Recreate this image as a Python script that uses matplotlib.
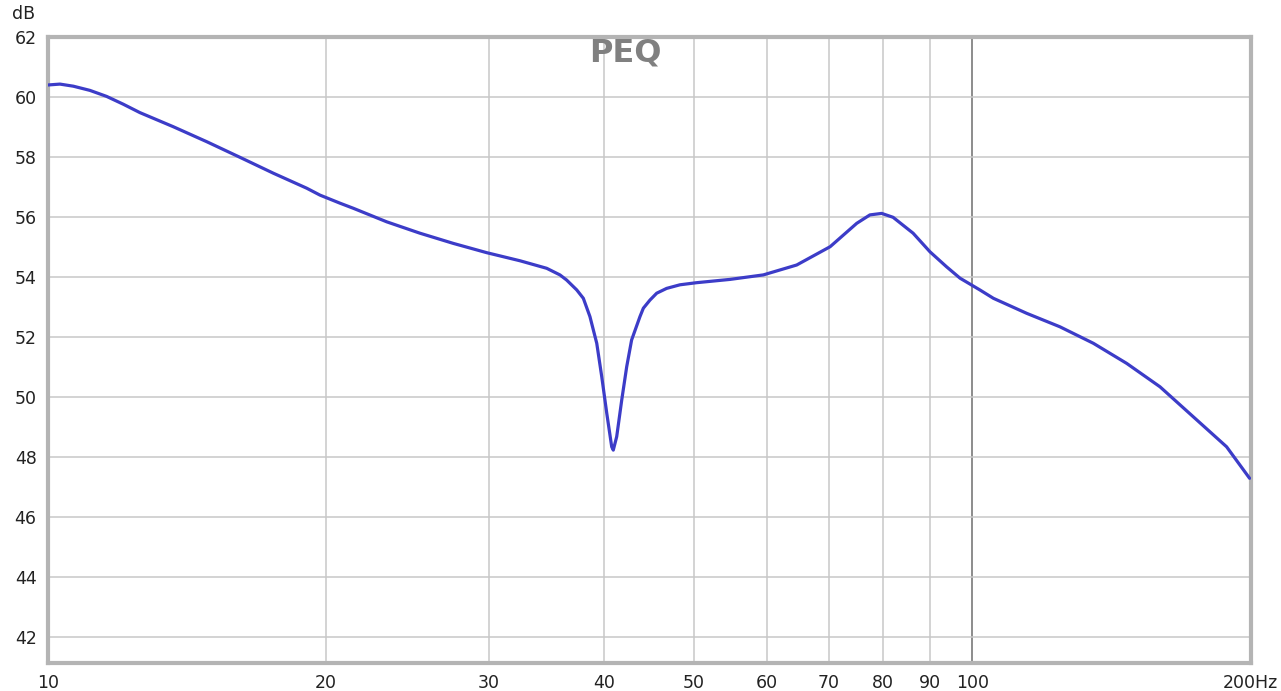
import numpy as np
import matplotlib
matplotlib.use("Agg")
import matplotlib.pyplot as plt

# response curve (Hz, dB)
freq = [10.0, 10.31, 10.66, 11.11, 11.58, 12.07, 12.58, 13.67, 14.86, 16.14,
        17.54, 19.06, 19.7, 20.71, 21.41, 23.26, 25.27, 27.46, 29.85, 32.43,
        34.65, 35.81, 36.41, 37.34, 37.96, 38.59, 39.25, 39.74, 40.24, 40.74,
        40.9, 41.25, 41.77, 42.29, 42.81, 43.71, 44.08, 44.81, 45.57, 46.71,
        47.49, 48.29, 50.32, 54.7, 59.43, 64.58, 70.19, 75.0, 77.5, 79.8,
        82.1, 86.3, 90.0, 93.8, 97.0, 101.9, 105.4, 114.5, 124.4, 135.2,
        146.9, 159.6, 173.4, 188.4, 199.5]
level = [60.40, 60.43, 60.36, 60.22, 60.02, 59.76, 59.48, 59.01, 58.51, 57.99,
         57.46, 56.96, 56.73, 56.46, 56.29, 55.84, 55.46, 55.12, 54.81, 54.54,
         54.29, 54.07, 53.90, 53.57, 53.29, 52.68, 51.79, 50.68, 49.46, 48.34,
         48.23, 48.68, 49.90, 51.01, 51.90, 52.68, 52.96, 53.23, 53.46, 53.62,
         53.68, 53.74, 53.81, 53.92, 54.07, 54.40, 55.01, 55.79, 56.07, 56.12,
         55.99, 55.46, 54.84, 54.34, 53.96, 53.57, 53.29, 52.79, 52.34, 51.79,
         51.12, 50.34, 49.34, 48.34, 47.29]

xticks = [10, 20, 30, 40, 50, 60, 70, 80, 90, 100, 200]
xlabels = ["10", "20", "30", "40", "50", "60", "70", "80", "90", "100", "200Hz"]
yticks = [42, 44, 46, 48, 50, 52, 54, 56, 58, 60, 62]

W, H = 1281, 691
fig = plt.figure(figsize=(W / 100, H / 100), dpi=100)
left, right, top, bottom = 47.7, 1250.6, 37, 663.3
ax = fig.add_axes([left / W, 1 - bottom / H, (right - left) / W, (bottom - top) / H])

ax.set_xscale("log")
ax.set_xlim(10, 200)
ax.set_ylim(62 - (bottom - top) / 30, 62)

ax.set_xticks(xticks)
ax.set_xticklabels(xlabels)
ax.xaxis.set_minor_locator(matplotlib.ticker.NullLocator())
ax.set_yticks(yticks)
ax.tick_params(length=0, labelsize=12.5, colors="#222222")
ax.tick_params(axis="x", pad=8)
ax.tick_params(axis="y", pad=8)

for f in xticks[1:-1]:
    ax.axvline(f, color="#6e6e6e" if f == 100 else "#c8c8c8", lw=1.1, zorder=1)
for v in yticks[:-1]:
    ax.axhline(v, color="#c8c8c8", lw=1.1, zorder=1)

for s in ax.spines.values():
    s.set_color("#b4b4b4")
    s.set_linewidth(3)

ax.plot(freq, level, color="#3c3cc8", lw=2.3, zorder=3,
        solid_joinstyle="round", solid_capstyle="round")

ax.text(0.48, 0.975, "PEQ", transform=ax.transAxes, ha="center", va="center",
        fontsize=23, fontweight="bold", color="#808080", zorder=4)
fig.text(24 / W, 1 - 14 / H, "dB", ha="center", va="center", fontsize=12.5, color="#222222")

fig.savefig("out.png", dpi=100)
